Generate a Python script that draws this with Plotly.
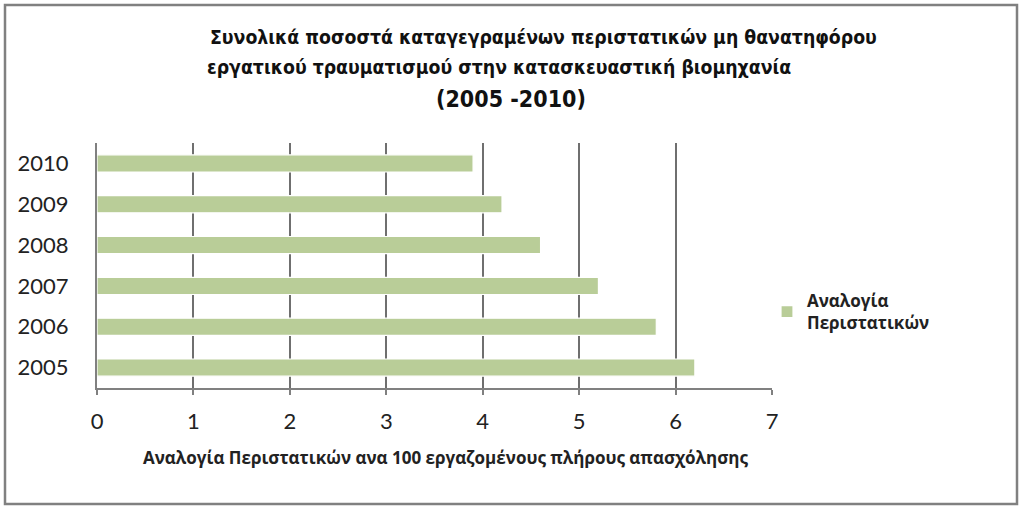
import plotly.graph_objects as go

# δεδομένα (διαβασμένα από το γράφημα)
years = ["2005", "2006", "2007", "2008", "2009", "2010"]
rates = [6.2, 5.8, 5.2, 4.6, 4.2, 3.9]
series_name = "<b>Αναλογία<br>Περιστατικών</b>"
x_ticks = [0, 1, 2, 3, 4, 5, 6, 7]

# μέγεθος σελίδας και περιοχή σχεδίασης σε pixel
W, H = 1024, 510
L, T = 97, 143
R, B = W - 772, H - 388
pw, ph = W - L - R, H - T - B


def px(x):
    return (x - L) / pw


def py(y):
    return (H - B - y) / ph


fig = go.Figure()

fig.add_trace(go.Bar(
    x=rates,
    y=years,
    orientation="h",
    name=series_name,
    marker=dict(color="#b9cd98", line=dict(color="white", width=1.2)),
    width=0.42,
    showlegend=True,
))

fig.update_layout(
    width=W, height=H,
    margin=dict(l=L, r=R, t=T, b=B),
    paper_bgcolor="white",
    plot_bgcolor="white",
    font=dict(family="Lato, Open Sans, sans-serif", color="#222"),
    xaxis=dict(
        range=[0, 7],
        tickvals=x_ticks,
        ticks="outside", ticklen=5, tickcolor="#808080", tickwidth=2,
        showgrid=True, gridcolor="#6f6f6f", gridwidth=1.5,
        showline=True, linecolor="#808080", linewidth=2,
        zeroline=False,
        tickfont=dict(size=22, family="Lato, Open Sans, sans-serif"),
        ticklabelstandoff=8,
    ),
    yaxis=dict(
        showline=True, linecolor="#808080", linewidth=2,
        ticks="", showgrid=False,
        tickfont=dict(size=22, family="Lato, Open Sans, sans-serif"),
        ticklabelstandoff=22,
    ),
    legend=dict(
        x=px(767), y=py(312), xanchor="left", yanchor="middle",
        font=dict(size=17, family="Open Sans, Lato, sans-serif", color="#222"),
        itemwidth=30,
        bgcolor="rgba(0,0,0,0)",
    ),
    bargap=0.58,
    showlegend=True,
)

# τίτλος άξονα x
fig.add_annotation(
    text="<b>Αναλογία Περιστατικών ανα 100 εργαζομένους πλήρους απασχόλησης</b>",
    xref="paper", yref="paper", x=px(445), y=py(458),
    xanchor="center", yanchor="middle", showarrow=False,
    font=dict(size=17, family="Open Sans, Lato, sans-serif", color="#222"),
)

# τίτλος σε τρεις γραμμές
title_font = "DejaVu Sans Condensed, Liberation Sans Narrow, Liberation Sans, sans-serif"
fig.add_annotation(
    text="<b>Συνολικά ποσοστά καταγεγραμένων περιστατικών μη θανατηφόρου</b>",
    xref="paper", yref="paper", x=px(208), y=py(38),
    xanchor="left", yanchor="middle", showarrow=False,
    font=dict(size=19.3, family=title_font, color="#111"),
)
fig.add_annotation(
    text="<b>εργατικού τραυματισμού στην κατασκευαστική βιομηχανία</b>",
    xref="paper", yref="paper", x=px(205), y=py(67),
    xanchor="left", yanchor="middle", showarrow=False,
    font=dict(size=19.3, family=title_font, color="#111"),
)
fig.add_annotation(
    text="<b>(2005 -2010)</b>",
    xref="paper", yref="paper", x=px(511), y=py(99),
    xanchor="center", yanchor="middle", showarrow=False,
    font=dict(size=23, family=title_font, color="#111"),
)

# πλαίσιο γύρω από όλο το γράφημα
fig.add_shape(
    type="rect", xref="paper", yref="paper",
    x0=px(5), x1=px(1017), y0=py(504), y1=py(5),
    line=dict(color="#808080", width=2.5),
    layer="below",
)

# χωρίς περιθώριο σελίδας, ώστε το γράφημα να ξεκινά στο (0,0)
fig.write_html(
    "out.html",
    config={"displayModeBar": False},
    post_script="document.body.style.margin='0px';",
)
